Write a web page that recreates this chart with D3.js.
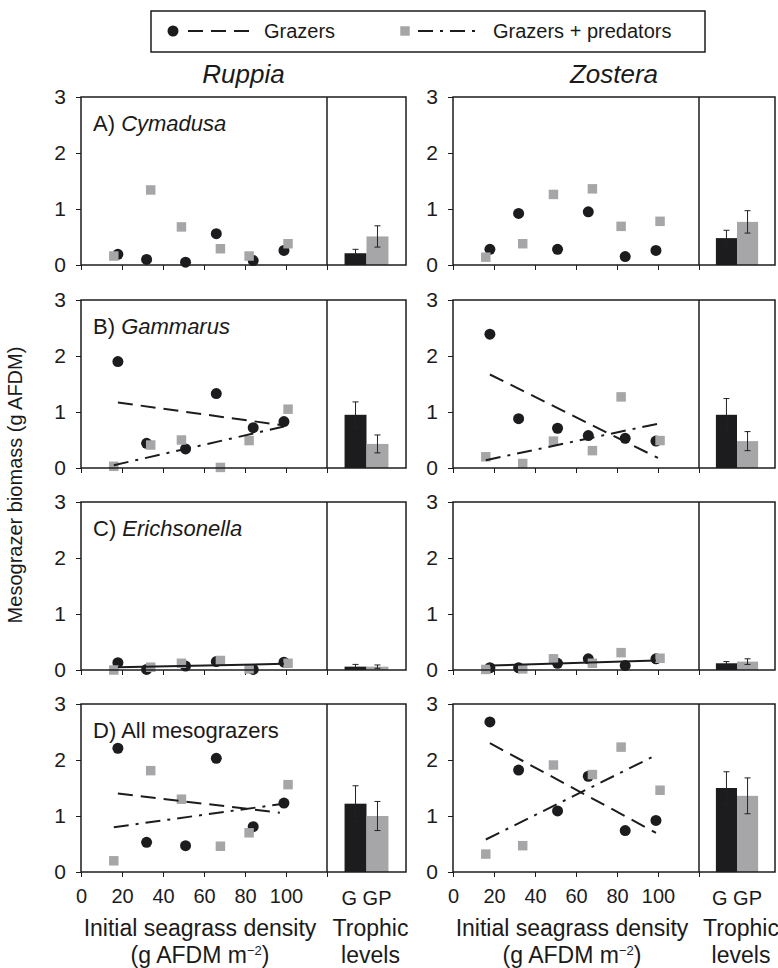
<!DOCTYPE html>
<html>
<head>
<meta charset="utf-8">
<script src="https://cdn.jsdelivr.net/npm/d3@7"></script>
<style>
body{margin:0;background:#fff}
svg{display:block}
text{font-family:"Liberation Sans",Arial,Helvetica,sans-serif;fill:#1a1a1a}
</style>
</head>
<body>
<svg id="chart" width="778" height="968"></svg>
<script>
// initial seagrass density of each mesocosm (x), grazers / grazers+predators
densityG = [18, 32, 51, 66, 84, 99]
densityGP = [16, 34, 49, 68, 82, 101]

columns = ["Ruppia", "Zostera"]
rowLabels = ["A) ", "B) ", "C) ", "D) "]
rowSpecies = ["Cymadusa", "Gammarus", "Erichsonella", "All mesograzers"]
rowItalic = [true, true, true, false]

// mesograzer biomass per mesocosm, [ruppia, zostera] for each row
cymadusaG  = [[0.19, 0.10, 0.05, 0.56, 0.08, 0.26], [0.28, 0.92, 0.28, 0.95, 0.15, 0.26]]
cymadusaGP = [[0.16, 1.34, 0.68, 0.29, 0.16, 0.38], [0.14, 0.38, 1.26, 1.36, 0.69, 0.78]]
gammarusG  = [[1.90, 0.44, 0.34, 1.33, 0.72, 0.83], [2.39, 0.88, 0.71, 0.58, 0.53, 0.48]]
gammarusGP = [[0.03, 0.41, 0.50, 0.01, 0.49, 1.05], [0.20, 0.08, 0.48, 0.31, 1.27, 0.49]]
erichG     = [[0.13, 0.01, 0.07, 0.15, 0.01, 0.14], [0.04, 0.04, 0.12, 0.20, 0.08, 0.20]]
erichGP    = [[0.00, 0.05, 0.12, 0.17, 0.02, 0.12], [0.01, 0.02, 0.20, 0.12, 0.31, 0.21]]
allG       = [[2.21, 0.53, 0.47, 2.03, 0.81, 1.23], [2.68, 1.82, 1.09, 1.71, 0.74, 0.92]]
allGP      = [[0.20, 1.81, 1.30, 0.46, 0.70, 1.56], [0.32, 0.47, 1.91, 1.74, 2.23, 1.46]]

// trophic level means and error (upper - mean), [ruppia, zostera]
barMeanG  = [[0.21, 0.48], [0.95, 0.95], [0.06, 0.12], [1.22, 1.50]]
barErrG   = [[0.07, 0.14], [0.23, 0.29], [0.04, 0.03], [0.32, 0.29]]
barMeanGP = [[0.51, 0.77], [0.43, 0.48], [0.06, 0.15], [1.00, 1.36]]
barErrGP  = [[0.19, 0.20], [0.16, 0.17], [0.03, 0.05], [0.26, 0.32]]

// regression lines (end points)
gammarusTrendG  = [[[18, 1.17], [99, 0.76]], [[18, 1.67], [100, 0.18]]]
gammarusTrendGP = [[[16, 0.05], [99, 0.74]], [[16, 0.14], [100, 0.79]]]
erichTrend      = [[[18, 0.05], [99, 0.11]], [[18, 0.08], [99, 0.17]]]
allTrendG       = [[[18, 1.40], [97, 1.06]], [[18, 2.30], [99, 0.70]]]
allTrendGP      = [[[16, 0.80], [99, 1.22]], [[16, 0.58], [97, 2.05]]]

xTicks = [0, 20, 40, 60, 80, 100, 120]
yTicks = [0, 1, 2, 3]

seriesG = [cymadusaG, gammarusG, erichG, allG]
seriesGP = [cymadusaGP, gammarusGP, erichGP, allGP]
trendsG = [null, gammarusTrendG, null, allTrendG]
trendsGP = [null, gammarusTrendGP, null, allTrendGP]
trendsSolid = [null, null, erichTrend, null]

var BLACK = "#1c1c1e", GREY = "#a6a6a8"
var DASH = "15,8", DASHDOT = "15,7,3,7"

var colX = [81, 453], scatterW = 246, barW = [79, 76]
var rowTop = [97, 300, 502, 704], panelH = 168

var svg = d3.select("#chart")

// legend
var lg = svg.append("g")
lg.append("rect").attr("x", 151).attr("y", 11).attr("width", 554).attr("height", 41)
  .attr("fill", "none").attr("stroke", BLACK).attr("stroke-width", 1.5)
lg.append("path").attr("d", d3.symbol(d3.symbolCircle, 95)()).attr("transform", "translate(173,31)").attr("fill", BLACK)
lg.append("line").attr("x1", 188).attr("x2", 252).attr("y1", 31).attr("y2", 31)
  .attr("stroke", BLACK).attr("stroke-width", 2).attr("stroke-dasharray", DASH)
lg.append("text").attr("x", 264).attr("y", 38).attr("font-size", 20).text("Grazers")
lg.append("path").attr("d", d3.symbol(d3.symbolSquare, 90)()).attr("transform", "translate(405,31)").attr("fill", GREY)
lg.append("line").attr("x1", 418).attr("x2", 478).attr("y1", 31).attr("y2", 31)
  .attr("stroke", BLACK).attr("stroke-width", 2).attr("stroke-dasharray", DASHDOT)
lg.append("text").attr("x", 493).attr("y", 38).attr("font-size", 20).text("Grazers + predators")

// y axis title
svg.append("text").attr("transform", "translate(22,485) rotate(-90)")
  .attr("text-anchor", "middle").attr("font-size", 20).text("Mesograzer biomass (g AFDM)")

for (c = 0; c < 2; c++) {
    var x0 = colX[c], bw = barW[c]
    var x = d3.scaleLinear().domain([0, 120]).range([x0, x0 + scatterW])
    var band = d3.scaleBand().domain(["G", "GP"]).range([x0 + scatterW, x0 + scatterW + bw])
      .paddingInner(0).paddingOuter(0.8)

    svg.append("text").attr("x", x0 + (scatterW + bw) / 2).attr("y", 83)
      .attr("text-anchor", "middle").attr("font-size", 26).attr("font-style", "italic").text(columns[c])

    for (r = 0; r < 4; r++) {
        var pTop = rowTop[r]
        var y = d3.scaleLinear().domain([0, 3]).range([pTop + panelH, pTop])
        var g = svg.append("g")

        // axes
        var ya = g.append("g").attr("transform", "translate(" + x0 + ",0)")
          .call(d3.axisLeft(y).tickValues(yTicks).tickFormat(d3.format("d")).tickSize(5).tickSizeOuter(0).tickPadding(10))
        ya.select(".domain").remove()
        ya.selectAll("text").attr("font-size", 21).attr("font-family", null).style("fill", BLACK)
        ya.selectAll("line").attr("stroke", BLACK)

        var xa = g.append("g").attr("transform", "translate(0," + (pTop + panelH) + ")")
          .call(d3.axisBottom(x).tickValues(xTicks).tickSize(5).tickSizeOuter(0).tickPadding(12)
            .tickFormat(function(d) { return (r == 3 && d < 120) ? d : "" }))
        xa.select(".domain").remove()
        xa.selectAll("text").attr("font-size", 20).attr("font-family", null).style("fill", BLACK)
        xa.selectAll("line").attr("stroke", BLACK)

        // bars
        var bars = [
            {k: "G", m: barMeanG[r][c], e: barErrG[r][c], col: BLACK},
            {k: "GP", m: barMeanGP[r][c], e: barErrGP[r][c], col: GREY}
        ]
        g.selectAll(".bar").data(bars).enter().append("rect")
          .attr("x", function(d) { return band(d.k) })
          .attr("width", band.bandwidth())
          .attr("y", function(d) { return y(d.m) })
          .attr("height", function(d) { return y(0) - y(d.m) })
          .attr("fill", function(d) { return d.col })
        bars.forEach(function(d) {
            var cx = band(d.k) + band.bandwidth() / 2
            g.append("line").attr("x1", cx).attr("x2", cx).attr("y1", y(d.m - d.e)).attr("y2", y(d.m + d.e))
              .attr("stroke", "#222").attr("stroke-width", 1)
            ;[d.m - d.e, d.m + d.e].forEach(function(v) {
                g.append("line").attr("x1", cx - 3).attr("x2", cx + 3).attr("y1", y(v)).attr("y2", y(v))
                  .attr("stroke", "#222").attr("stroke-width", 1)
            })
        })

        // points
        var ptsG = densityG.map(function(d, i) { return [d, seriesG[r][c][i]] })
        var ptsGP = densityGP.map(function(d, i) { return [d, seriesGP[r][c][i]] })
        g.selectAll(".ptG").data(ptsG).enter().append("path")
          .attr("d", d3.symbol(d3.symbolCircle, 95)())
          .attr("transform", function(d) { return "translate(" + x(d[0]) + "," + y(d[1]) + ")" })
          .attr("fill", BLACK)
        g.selectAll(".ptGP").data(ptsGP).enter().append("path")
          .attr("d", d3.symbol(d3.symbolSquare, 90)())
          .attr("transform", function(d) { return "translate(" + x(d[0]) + "," + y(d[1]) + ")" })
          .attr("fill", GREY)

        // regression lines
        var line = d3.line().x(function(d) { return x(d[0]) }).y(function(d) { return y(d[1]) })
        if (trendsG[r]) g.append("path").attr("d", line(trendsG[r][c])).attr("fill", "none")
          .attr("stroke", BLACK).attr("stroke-width", 2).attr("stroke-dasharray", DASH)
        if (trendsGP[r]) g.append("path").attr("d", line(trendsGP[r][c])).attr("fill", "none")
          .attr("stroke", BLACK).attr("stroke-width", 2).attr("stroke-dasharray", DASHDOT)
        if (trendsSolid[r]) g.append("path").attr("d", line(trendsSolid[r][c])).attr("fill", "none")
          .attr("stroke", BLACK).attr("stroke-width", 2)

        // frame and divider
        g.append("rect").attr("x", x0).attr("y", pTop).attr("width", scatterW + bw).attr("height", panelH)
          .attr("fill", "none").attr("stroke", BLACK).attr("stroke-width", 1.5)
        g.append("line").attr("x1", x0 + scatterW).attr("x2", x0 + scatterW).attr("y1", pTop).attr("y2", pTop + panelH)
          .attr("stroke", BLACK).attr("stroke-width", 1.5)

        // panel label (left column only)
        if (c == 0) {
            var t = g.append("text").attr("x", x0 + 12).attr("y", pTop + 34).attr("font-size", 22)
            t.append("tspan").text(rowLabels[r])
            t.append("tspan").attr("font-style", rowItalic[r] ? "italic" : "normal").text(rowSpecies[r])
        }
    }

    // bottom labels
    var bCx = x0 + scatterW + bw / 2
    svg.append("text").attr("x", bCx).attr("y", 905).attr("text-anchor", "middle").attr("font-size", 20).text("G GP")
    svg.append("text").attr("x", x0 + scatterW / 2 - 4).attr("y", 936).attr("text-anchor", "middle")
      .attr("font-size", 23).text("Initial seagrass density")
    var u = svg.append("text").attr("x", x0 + scatterW / 2 - 4).attr("y", 963).attr("text-anchor", "middle").attr("font-size", 23)
    u.append("tspan").text("(g AFDM m")
    u.append("tspan").attr("font-size", 13).attr("dy", -8).text("\u22122")
    u.append("tspan").attr("dy", 8).text(")")
    svg.append("text").attr("x", bCx + 4).attr("y", 936).attr("text-anchor", "middle").attr("font-size", 23).text("Trophic")
    svg.append("text").attr("x", bCx + 4).attr("y", 963).attr("text-anchor", "middle").attr("font-size", 23).text("levels")
}
</script>
</body>
</html>
